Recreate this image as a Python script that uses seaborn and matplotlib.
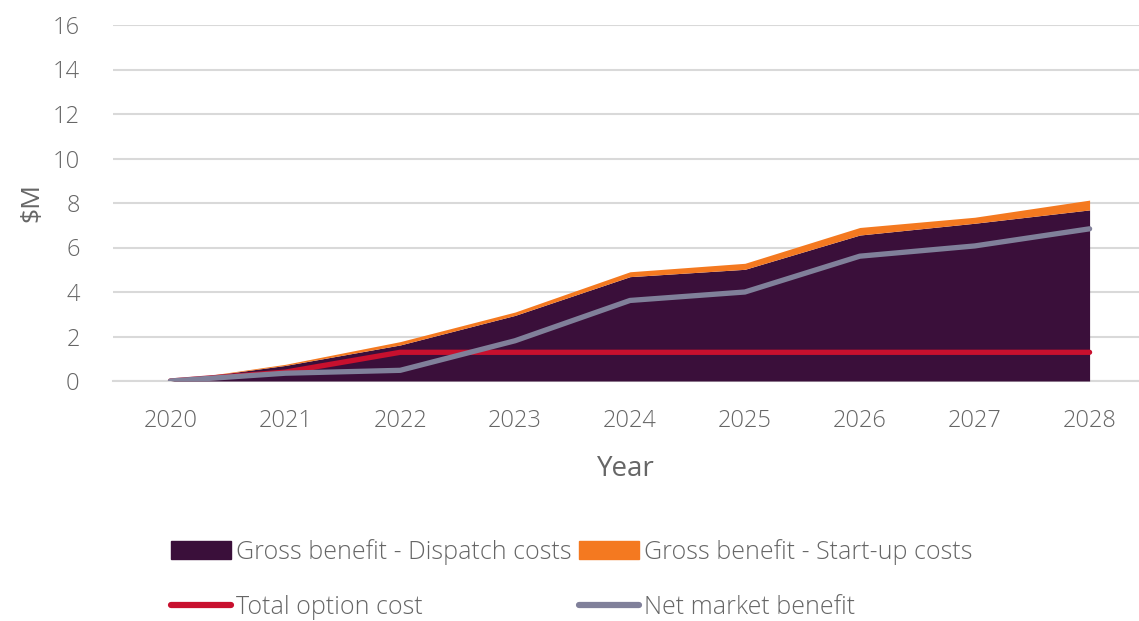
import numpy as np
import pandas as pd
import seaborn as sns
import matplotlib.pyplot as plt
from matplotlib.patches import Patch
from matplotlib.lines import Line2D

years = ["2020", "2021", "2022", "2023", "2024", "2025", "2026", "2027", "2028"]
dispatch = [0.0, 0.70, 1.62, 2.95, 4.69, 5.02, 6.56, 7.09, 7.69]
startup = [0.0, 0.05, 0.15, 0.15, 0.22, 0.27, 0.34, 0.27, 0.44]
option_cost = [0.0, 0.40, 1.29, 1.29, 1.29, 1.29, 1.29, 1.29, 1.29]
net_benefit = [0.0, 0.35, 0.48, 1.81, 3.62, 4.00, 5.61, 6.07, 6.84]

C_DISPATCH = "#3a0f3a"
C_STARTUP = "#f47920"
C_COST = "#c8102e"
C_NET = "#80809a"
TXT = "#666666"
GRID = "#d9d9d9"

sns.set_theme(style="white")
plt.rcParams["font.family"] = ["Open Sans", "DejaVu Sans"]
plt.rcParams["font.weight"] = "light"

df = pd.DataFrame({"year": years, "x": np.arange(len(years)),
                   "cost": option_cost, "net": net_benefit})

fig = plt.figure(figsize=(11.39, 6.21), dpi=100)
ax = fig.add_axes([113 / 1139, (621 - 381) / 621, (1139 - 113) / 1139, (381 - 25) / 621])

ax.stackplot(df["x"], dispatch, startup, colors=[C_DISPATCH, C_STARTUP], linewidth=0, zorder=2)
sns.lineplot(data=df, x="x", y="cost", ax=ax, color=C_COST, linewidth=3.8,
             solid_capstyle="round", zorder=3)
sns.lineplot(data=df, x="x", y="net", ax=ax, color=C_NET, linewidth=3.8,
             solid_capstyle="round", zorder=4)

ax.set_yticks(range(0, 17, 2))
ax.set_xticks(df["x"])
ax.set_xticklabels(years)
ax.set_xticks(np.arange(-0.5, 9, 1), minor=True)
# limits after the ticks, since set_xticks widens the view
ax.set_ylim(0, 16)
ax.set_xlim(-0.5, 8.43)
ax.tick_params(axis="x", which="major", length=0, pad=20, labelsize=17, labelcolor=TXT)
ax.tick_params(axis="x", which="minor", length=8, width=1.5, color=GRID, direction="out")
ax.tick_params(axis="y", length=0, pad=24, labelsize=17, labelcolor=TXT)
ax.yaxis.grid(True, color=GRID, linewidth=1.5, zorder=0)
ax.set_axisbelow(True)
for s in ["top", "right", "left"]:
    ax.spines[s].set_visible(False)
ax.spines["bottom"].set_color(GRID)
ax.spines["bottom"].set_linewidth(1.5)
ax.spines["bottom"].set_zorder(1)

ax.set_xlabel("Year", fontsize=20, color=TXT, labelpad=16)
ax.set_ylabel("$M", fontsize=19, color=TXT, labelpad=6)

handles = [Patch(color=C_DISPATCH), Line2D([], [], color=C_COST, lw=4.5, solid_capstyle="round"),
           Patch(color=C_STARTUP), Line2D([], [], color=C_NET, lw=4.5, solid_capstyle="round")]
labels = ["Gross benefit - Dispatch costs", "Total option cost",
          "Gross benefit - Start-up costs", "Net market benefit"]
fig.legend(handles, labels, ncol=2, loc="center", bbox_to_anchor=(0.502, 0.067),
           frameon=False, fontsize=18, labelcolor=TXT, handlelength=2.4,
           handleheight=0.7, handletextpad=0.2, columnspacing=0.3, labelspacing=1.2)

fig.savefig("out.png", dpi=100)
